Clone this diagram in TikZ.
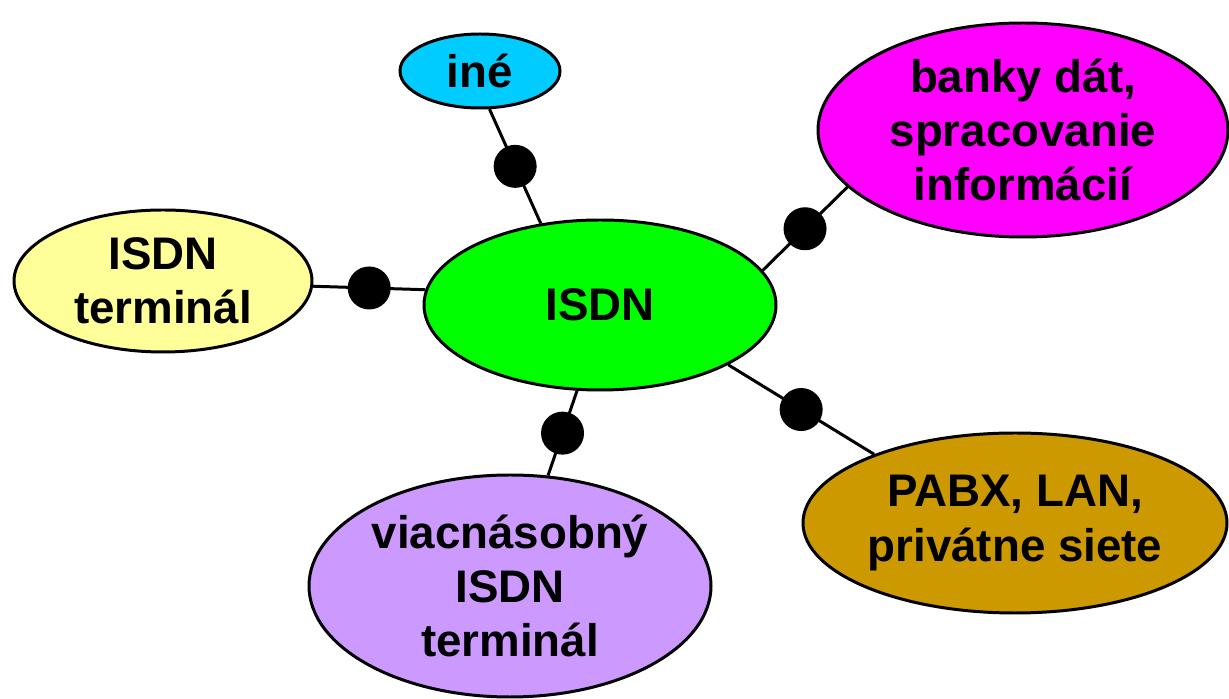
\documentclass[tikz,border=0pt]{standalone}
\usepackage{fontspec}
\setmainfont{Liberation Sans}
\usetikzlibrary{shapes.geometric,positioning}

\definecolor{isdngreen}{HTML}{00FF00}
\definecolor{inecyan}{HTML}{00CCFF}
\definecolor{bankmagenta}{HTML}{FF00FF}
\definecolor{termyellow}{HTML}{FFFF99}
\definecolor{pabxbrown}{HTML}{CC9900}
\definecolor{viacviolet}{HTML}{CC99FF}

\begin{document}
\begin{tikzpicture}[-,line width=0.85pt,node distance=1cm,main node/.style={ellipse,draw,inner sep=0pt,align=center,font=\fontsize{13}{15.4}\selectfont\bfseries},dot node/.style={circle,fill=black,inner sep=0pt,minimum size=0.43cm}]

            \useasboundingbox (0,0) rectangle (12.29,-6.99);

            \node[main node, fill=isdngreen, minimum width=3.52cm, minimum height=1.70cm] (isdn) at (6.00,-3.05) {ISDN};
            \node[main node, fill=inecyan, minimum width=1.60cm, minimum height=0.74cm] (ine) [above of = isdn, node distance=2.34cm, xshift=-1.20cm] {iné};
            \node[main node, fill=bankmagenta, minimum width=4.10cm, minimum height=2.14cm] (banky) [right of = isdn, node distance=4.23cm, yshift=1.75cm] {banky dát,\\spracovanie\\informácií};
            \node[main node, fill=termyellow, minimum width=2.98cm, minimum height=1.42cm] (term) [left of = isdn, node distance=4.37cm, yshift=0.24cm] {ISDN\\terminál};
            \node[main node, fill=pabxbrown, minimum width=4.24cm, minimum height=1.80cm] (pabx) [right of = isdn, node distance=4.15cm, yshift=-2.18cm] {PABX, LAN,\\privátne siete};
            \node[main node, fill=viacviolet, minimum width=4.02cm, minimum height=2.22cm] (viac) [below of = isdn, node distance=2.81cm, xshift=-0.90cm] {viacnásobný\\ISDN\\terminál};

            \draw (isdn.126) -- node[dot node] (dot1) {} (ine.-76);
            \draw (isdn.12) -- node[dot node] (dot2) {} (banky.198);
            \draw (isdn.175) -- node[dot node] (dot3) {} (term.-2);
            \draw (isdn.-25) -- node[dot node] (dot4) {} (pabx.154);
            \draw (isdn.-105) -- node[dot node] (dot5) {} (viac.71);

        \end{tikzpicture}
\end{document}
